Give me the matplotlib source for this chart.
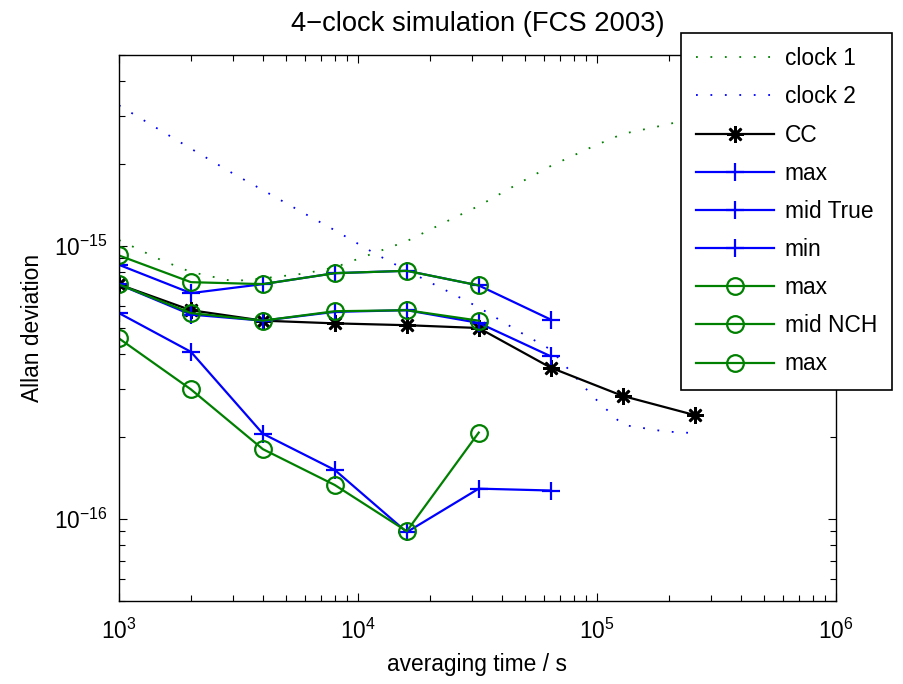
import numpy as np
import matplotlib
matplotlib.use("Agg")
import matplotlib.pyplot as plt
from matplotlib.ticker import NullFormatter

plt.rcParams['font.family'] = ['Liberation Sans', 'DejaVu Sans']
plt.rcParams['mathtext.fontset'] = 'custom'
plt.rcParams['mathtext.rm'] = 'Liberation Sans'
plt.rcParams['mathtext.it'] = 'Liberation Sans:italic'
plt.rcParams['font.size'] = 16.4

# averaging times of the marker series
tau = [1e3, 2e3, 4e3, 8e3, 1.6e4, 3.2e4, 6.4e4, 1.28e5, 2.56e5]

# dense tau grid for the two clock curves
tau_clk = [1e3, 1.5e3, 2e3, 3e3, 4e3, 6e3, 8e3, 1.2e4, 1.6e4, 2.4e4, 3.2e4,
           4.8e4, 6.4e4, 9.6e4, 1.28e5, 1.92e5, 2.56e5]
clock1 = [1.05e-15, 8.87e-16, 8.02e-16, 7.42e-16, 7.6e-16, 7.92e-16, 8.34e-16,
          9.49e-16, 1.04e-15, 1.24e-15, 1.40e-15, 1.71e-15, 1.96e-15, 2.31e-15,
          2.57e-15, 2.77e-15, 2.94e-15]
clock2 = [3.27e-15, 2.64e-15, 2.27e-15, 1.84e-15, 1.60e-15, 1.31e-15, 1.14e-15,
          9.28e-16, 8.12e-16, 6.78e-16, 5.95e-16, 4.81e-16, 4.17e-16, 2.81e-16,
          2.21e-16, 2.09e-16, 2.06e-16]

cc = [7.22e-16, 5.81e-16, 5.32e-16, 5.20e-16, 5.12e-16, 5.00e-16, 3.58e-16,
      2.82e-16, 2.40e-16]

true_max = [8.52e-16, 6.71e-16, 7.24e-16, 7.94e-16, 8.10e-16, 7.16e-16, 5.37e-16]
true_mid = [7.22e-16, 5.60e-16, 5.32e-16, 5.73e-16, 5.81e-16, 5.22e-16, 3.94e-16]
true_min = [5.67e-16, 4.09e-16, 2.05e-16, 1.51e-16, 8.94e-17, 1.29e-16, 1.27e-16]

nch_max = [9.22e-16, 7.36e-16, 7.24e-16, 7.94e-16, 8.10e-16, 7.16e-16]
nch_mid = [7.22e-16, 5.67e-16, 5.32e-16, 5.76e-16, 5.81e-16, 5.32e-16]
nch_min = [4.58e-16, 2.98e-16, 1.80e-16, 1.33e-16, 9.01e-17, 2.07e-16]

labels = ['clock 1', 'clock 2', 'CC', 'max', 'mid True', 'min',
          'max', 'mid NCH', 'max']

x_major = [1e3, 1e4, 1e5, 1e6]
y_major = [1e-16, 1e-15]

green = (0, 0.5, 0)
blue = (0, 0, 1)
star = (8, 2, 0)

fig = plt.figure(figsize=(9.04, 6.84), dpi=100)
ax = fig.add_axes([0.1316, 0.1213, 0.7932, 0.7983])

dots = (0, (1.0, 7.0))
ax.plot(tau_clk, clock1, color=green, lw=1.3, ls=dots, label=labels[0])
ax.plot(tau_clk, clock2, color=blue, lw=1.3, ls=dots, label=labels[1])
ax.plot(tau[:len(cc)], cc, color='k', lw=1.6, marker=star, ms=12, mew=1.9,
        label=labels[2])

for vals, lab in zip([true_max, true_mid, true_min], labels[3:6]):
    ax.plot(tau[:len(vals)], vals, color=blue, lw=1.6, marker='+', ms=13,
            mew=1.6, label=lab)
for vals, lab in zip([nch_max, nch_mid, nch_min], labels[6:9]):
    ax.plot(tau[:len(vals)], vals, color=green, lw=1.6, marker='o', ms=12,
            mew=1.6, mfc='none', label=lab)

ax.set_xscale('log')
ax.set_yscale('log')
ax.set_xlim(1e3, 1e6)
ax.set_ylim(5e-17, 5e-15)
ax.set_xticks(x_major)
ax.set_yticks(y_major)
ax.xaxis.set_minor_formatter(NullFormatter())
ax.yaxis.set_minor_formatter(NullFormatter())

ax.tick_params(which='both', direction='in', top=True, right=True, width=0.8)
ax.tick_params(which='major', length=6)
ax.tick_params(which='minor', length=4)
ax.tick_params(axis='x', which='major', pad=13)
ax.tick_params(axis='y', which='major', pad=8)
for sp in ax.spines.values():
    sp.set_linewidth(1.0)

ax.set_xlabel('averaging time / s', labelpad=6)
ax.set_ylabel('Allan deviation', labelpad=7)
ax.set_title('4\u2212clock simulation (FCS 2003)', pad=17)

leg = ax.legend(loc='upper left', bbox_to_anchor=(681 / 904, 1 - 32.5 / 684),
                bbox_transform=fig.transFigure, fancybox=False, framealpha=1,
                edgecolor='k', borderpad=0.65, labelspacing=0.665,
                handlelength=3.45, handletextpad=0.45, borderaxespad=0)
leg.get_frame().set_linewidth(1.2)

fig.savefig('out.png', dpi=100)
